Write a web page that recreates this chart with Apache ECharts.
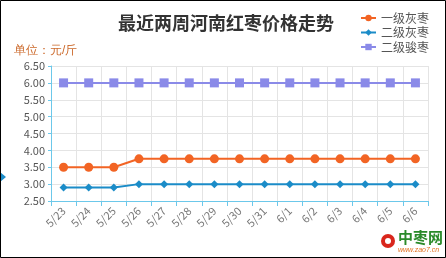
<!DOCTYPE html>
<html><head><meta charset="utf-8">
<script src="https://cdn.jsdelivr.net/npm/echarts@6/dist/echarts.min.js"></script>
<style>html,body{margin:0;padding:0;background:#fff}#c{width:446px;height:258px}</style>
</head><body><div id="c"></div>
<script>
var dates = ['5/23','5/24','5/25','5/26','5/27','5/28','5/29','5/30','5/31','6/1','6/2','6/3','6/4','6/5','6/6'];
var seriesNames = ['一级灰枣','二级灰枣','二级骏枣'];
var grade1Grey = [3.5,3.5,3.5,3.75,3.75,3.75,3.75,3.75,3.75,3.75,3.75,3.75,3.75,3.75,3.75];
var grade2Grey = [2.9,2.9,2.9,3.0,3.0,3.0,3.0,3.0,3.0,3.0,3.0,3.0,3.0,3.0,3.0];
var grade2Jun = [6,6,6,6,6,6,6,6,6,6,6,6,6,6,6];
var chart = echarts.init(document.getElementById('c'));
var font = '"Microsoft YaHei","Noto Sans CJK SC",sans-serif';
chart.setOption({
  animation:false,
  title:{text:'最近两周河南红枣价格走势',left:221,textAlign:'center',top:9,
    textStyle:{fontSize:18,fontWeight:'bold',color:'#333',fontFamily:font}},
  legend:{orient:'vertical',right:12,top:7,itemWidth:15,itemHeight:8,itemGap:2.5,
    textStyle:{fontSize:12,color:'#555',fontFamily:font},data:seriesNames},
  grid:{left:51,right:18,top:66,bottom:57},
  xAxis:{type:'category',data:dates,boundaryGap:true,
    axisLine:{lineStyle:{color:'#6cc8ea',width:1}},
    axisTick:{show:true,length:5,lineStyle:{color:'#6cc8ea'}},
    axisLabel:{rotate:45,fontSize:11,color:'#777',margin:8,fontFamily:font,interval:0},
    splitLine:{show:true,lineStyle:{color:'#e4e4e4'}}},
  yAxis:{type:'value',min:2.5,max:6.5,interval:0.5,
    axisLine:{show:true,lineStyle:{color:'#6cc8ea'}},
    axisTick:{show:true,length:3,lineStyle:{color:'#6cc8ea'}},
    axisLabel:{formatter:function(v){return v.toFixed(2);},fontSize:11,color:'#555',margin:6,fontFamily:font},
    splitLine:{show:true,lineStyle:{color:'#e4e4e4'}}},
  series:[
    {name:seriesNames[0],type:'line',data:grade1Grey,symbol:'circle',symbolSize:9,
      itemStyle:{color:'#f26424'},lineStyle:{color:'#f26424',width:2}},
    {name:seriesNames[1],type:'line',data:grade2Grey,symbol:'diamond',symbolSize:8,
      itemStyle:{color:'#1b8cc8'},lineStyle:{color:'#1b8cc8',width:2}},
    {name:seriesNames[2],type:'line',data:grade2Jun,symbol:'rect',symbolSize:9,
      itemStyle:{color:'#8a8ae8'},lineStyle:{color:'#8a8ae8',width:2}}
  ],
  graphic:[
    {type:'text',left:14,top:45,style:{text:'单位：元/斤',fontSize:12,fill:'#cc6a2c',font:'12px '+font}},
    {type:'polygon',shape:{points:[[0,172],[6,177],[0,182]]},style:{fill:'#1b8cc8'}},
    {type:'rect',shape:{x:0.5,y:0.5,width:445,height:257},style:{fill:null,stroke:'#000',lineWidth:1}},
    {type:'circle',shape:{cx:388,cy:241,r:7},style:{fill:'#d9261c'}},
    {type:'circle',shape:{cx:388,cy:241,r:3},style:{fill:'#fff'}},
    {type:'text',x:398,y:230,style:{text:'中枣网',font:'bold 15px '+font,fill:'#2a8a2a'}},
    {type:'text',x:398,y:247,style:{text:'www.zao7.cn',font:'italic 7px sans-serif',fill:'#e07020'}}
  ]
});
</script></body></html>
